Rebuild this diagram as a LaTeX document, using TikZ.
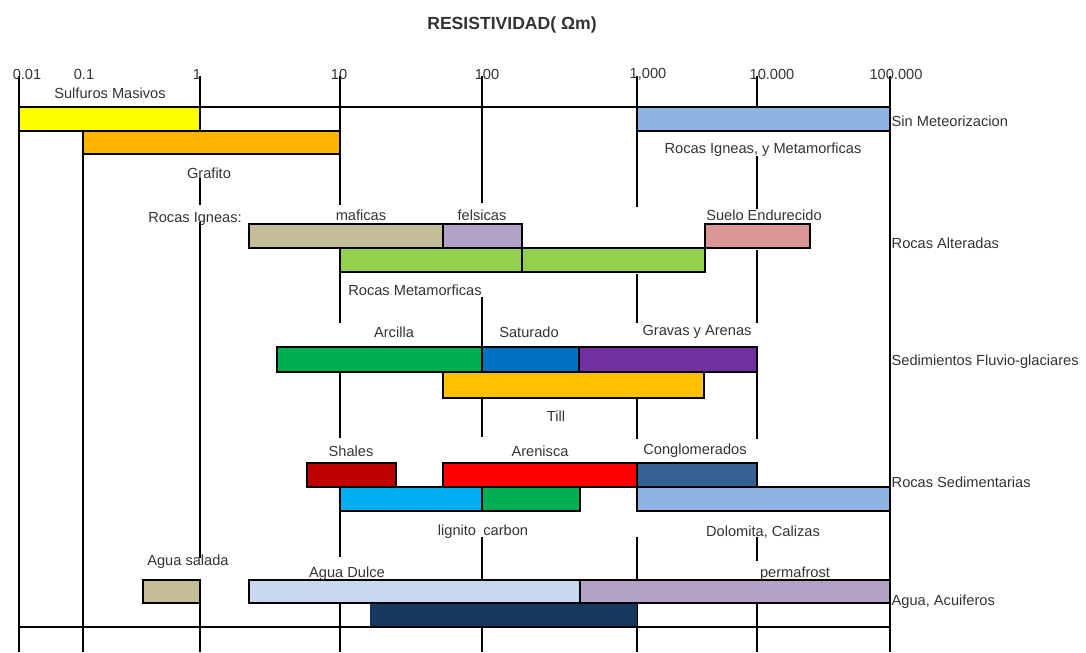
\documentclass[tikz,border=0pt]{standalone}
\usepackage{fontspec}
\setmainfont{Liberation Sans}
\usepackage{tikz}
\definecolor{mtext}{HTML}{333333}
\definecolor{myellow}{HTML}{FFFF00}
\definecolor{morange}{HTML}{FFB400}
\definecolor{mgold}{HTML}{FFC000}
\definecolor{mblue}{HTML}{8DB4E2}
\definecolor{mtan}{HTML}{C4BD97}
\definecolor{mlavender}{HTML}{B3A2C7}
\definecolor{mpink}{HTML}{D99694}
\definecolor{mlime}{HTML}{92D050}
\definecolor{mgreen}{HTML}{00B050}
\definecolor{mazure}{HTML}{0070C0}
\definecolor{mpurple}{HTML}{7030A0}
\definecolor{mdarkred}{HTML}{C00000}
\definecolor{mred}{HTML}{FF0000}
\definecolor{msteel}{HTML}{366092}
\definecolor{mcyan}{HTML}{00B0F0}
\definecolor{mpale}{HTML}{C6D9F1}
\definecolor{mnavy}{HTML}{17375E}
\tikzset{colbar/.style = {draw=black, line width=1.8pt},
         axisline/.style = {line width=1.8pt},
         lbl/.style = {text=mtext, inner sep=1pt,
                       font=\fontsize{10.4}{12}\selectfont}}

\begin{document}
\begin{tikzpicture}[x=0.025cm, y=-0.025cm]
      \useasboundingbox (0, 0) rectangle (1086, 652);

      \node (title) [text=mtext, font=\fontsize{12.5}{14}\selectfont\bfseries] at (512, 25) {RESISTIVIDAD( Ωm)};

      \draw [axisline] (19, 76) -- (19, 652);
      \draw [axisline] (83, 131) -- (83, 652);
      \draw [axisline] (200, 76) -- (200, 131) (200, 178) -- (200, 205)
                       (200, 222) -- (200, 558) (200, 580) -- (200, 652);
      \draw [axisline] (340, 76) -- (340, 205) (340, 248) -- (340, 323)
                       (340, 372) -- (340, 438) (340, 487) -- (340, 557)
                       (340, 603) -- (340, 652);
      \draw [axisline] (482, 76) -- (482, 203) (482, 297) -- (482, 437)
                       (482, 537) -- (482, 580) (482, 627) -- (482, 652);
      \draw [axisline] (637, 76) -- (637, 207) (637, 274) -- (637, 323)
                       (637, 398) -- (637, 439) (637, 537) -- (637, 652);
      \draw [axisline] (757, 76) -- (757, 131) (757, 156) -- (757, 209)
                       (757, 250) -- (757, 323) (757, 347) -- (757, 439)
                       (757, 537) -- (757, 561) (757, 603) -- (757, 652);
      \draw [axisline] (890, 76) -- (890, 652);
      \draw [axisline] (19, 107) -- (890, 107);

      \draw [colbar, fill=myellow] (19, 107) rectangle (200, 131);
      \draw [colbar, fill=mblue] (637, 107) rectangle (890, 131);
      \draw [colbar, fill=morange] (83, 131) rectangle (340, 154);

      \draw [colbar, fill=mtan] (249, 224) rectangle (443, 248);
      \draw [colbar, fill=mlavender] (443, 224) rectangle (522, 248);
      \draw [colbar, fill=mpink] (705, 224) rectangle (810, 248);
      \draw [colbar, fill=mlime] (340, 248) rectangle (522, 272);
      \draw [colbar, fill=mlime] (522, 248) rectangle (705, 272);

      \draw [colbar, fill=mgreen] (277, 347) rectangle (482, 372);
      \draw [colbar, fill=mazure] (482, 347) rectangle (579, 372);
      \draw [colbar, fill=mpurple] (579, 347) rectangle (757, 372);
      \draw [colbar, fill=mgold] (443, 372) rectangle (704, 398);

      \draw [colbar, fill=mdarkred] (307, 463) rectangle (396, 487);
      \draw [colbar, fill=mred] (443, 463) rectangle (637, 487);
      \draw [colbar, fill=msteel] (637, 463) rectangle (757, 487);
      \draw [colbar, fill=mcyan] (340, 487) rectangle (482, 511);
      \draw [colbar, fill=mgreen] (482, 487) rectangle (580, 511);
      \draw [colbar, fill=mblue] (637, 487) rectangle (890, 511);

      \fill [mnavy] (370, 603) rectangle (637, 627);
      \draw [colbar, fill=mtan] (143, 580) rectangle (200, 603);
      \draw [colbar, fill=mpale] (249, 580) rectangle (580, 603);
      \draw [colbar, fill=mlavender] (580, 580) rectangle (890, 603);
      \draw [axisline] (19, 627) -- (890, 627);

      \node (t001) [lbl] at (27, 74) {0.01};
      \node (t01) [lbl] at (84, 74) {0.1};
      \node (t1) [lbl] at (197, 74) {1};
      \node (t10) [lbl] at (339, 74) {10};
      \node (t100) [lbl] at (487, 74) {100};
      \node (t1k) [lbl] at (648, 74) {1,000};
      \node (t10k) [lbl] at (772, 74) {10.000};
      \node (t100k) [lbl] at (896, 74) {100.000};

      \node (sulfuros) [lbl] at (110, 93) {Sulfuros Masivos};
      \node (grafito) [lbl] at (209, 173) {Grafito};
      \node (ignmet) [lbl] at (763, 150) {Rocas Igneas, y Metamorficas};
      \node (sinmet) [lbl, right] at (890, 121) {Sin Meteorizacion};

      \node (igneas) [lbl] at (195, 219) {Rocas Igneas:};
      \node (maficas) [lbl] at (361, 215) {maficas};
      \node (felsicas) [lbl] at (482, 215) {felsicas};
      \node (suelo) [lbl] at (764, 215) {Suelo Endurecido};
      \node (metam) [lbl] at (415, 290) {Rocas Metamorficas};
      \node (alteradas) [lbl, right] at (890, 243) {Rocas Alteradas};

      \node (arcilla) [lbl] at (394, 332) {Arcilla};
      \node (saturado) [lbl] at (529, 332) {Saturado};
      \node (gravas) [lbl] at (697, 332) {Gravas y Arenas};
      \node (till) [lbl] at (556, 416) {Till};
      \node (fluvio) [lbl, right] at (890, 362) {Sedimientos Fluvio-glaciares};

      \node (shales) [lbl] at (351, 451) {Shales};
      \node (arenisca) [lbl] at (540, 451) {Arenisca};
      \node (conglom) [lbl] at (695, 451) {Conglomerados};
      \node (carbon) [lbl] at (483, 532) {lignito\enspace carbon};
      \node (dolomita) [lbl] at (763, 532) {Dolomita, Calizas};
      \node (sediment) [lbl, right] at (890, 482) {Rocas Sedimentarias};

      \node (salada) [lbl] at (188, 562) {Agua salada};
      \node (dulce) [lbl] at (347, 574) {Agua Dulce};
      \node (permafrost) [lbl] at (795, 574) {permafrost};
      \node (acuiferos) [lbl, right] at (890, 602) {Agua, Acuiferos};
    \end{tikzpicture}
\end{document}
